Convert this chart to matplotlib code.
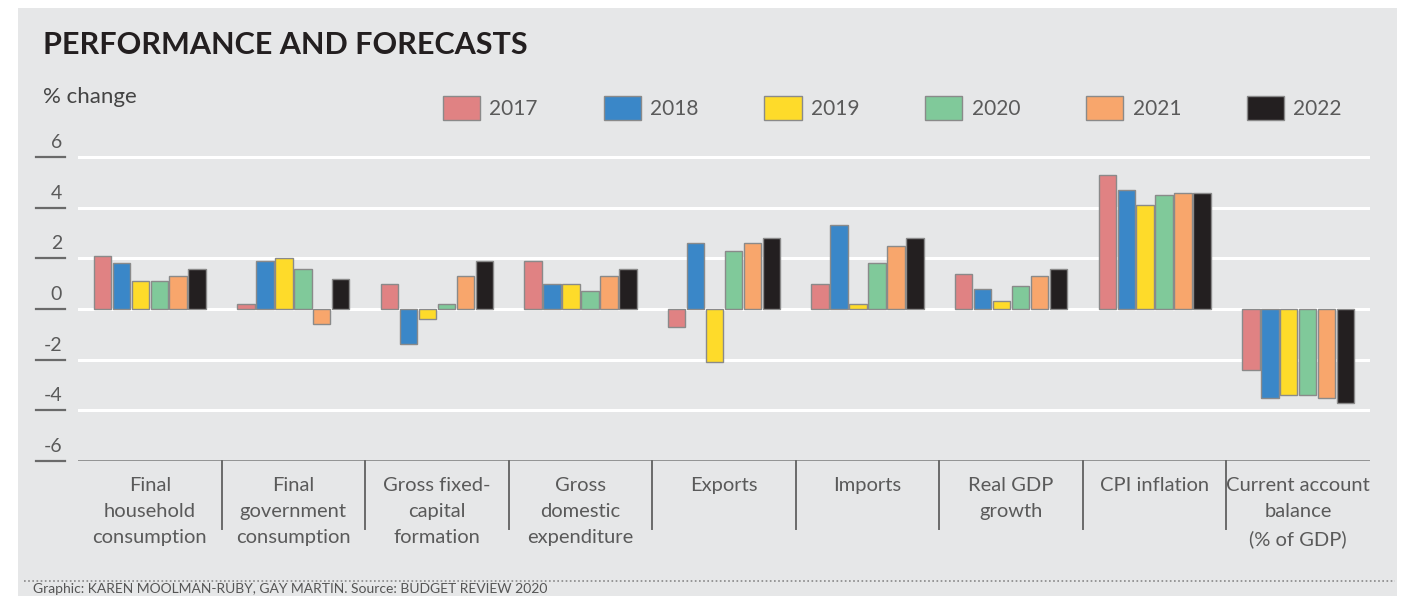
import matplotlib
matplotlib.use("Agg")
import matplotlib.pyplot as plt
import matplotlib.patches as patches
from matplotlib.lines import Line2D
import matplotlib.transforms as mtransforms
import numpy as np

plt.rcParams['font.family'] = ['Lato', 'DejaVu Sans']

categories = ["Final\nhousehold\nconsumption", "Final\ngovernment\nconsumption",
              "Gross fixed-\ncapital\nformation", "Gross\ndomestic\nexpenditure",
              "Exports", "Imports", "Real GDP\ngrowth", "CPI inflation",
              "Current account\nbalance\n(% of GDP)"]
years = ["2017", "2018", "2019", "2020", "2021", "2022"]
v2017 = [2.1, 0.2, 1.0, 1.9, -0.7, 1.0, 1.4, 5.3, -2.4]
v2018 = [1.8, 1.9, -1.4, 1.0, 2.6, 3.3, 0.8, 4.7, -3.5]
v2019 = [1.1, 2.0, -0.4, 1.0, -2.1, 0.2, 0.3, 4.1, -3.4]
v2020 = [1.1, 1.6, 0.2, 0.7, 2.3, 1.8, 0.9, 4.5, -3.4]
v2021 = [1.3, -0.6, 1.3, 1.3, 2.6, 2.5, 1.3, 4.6, -3.5]
v2022 = [1.6, 1.2, 1.9, 1.6, 2.8, 2.8, 1.6, 4.6, -3.7]
series = [v2017, v2018, v2019, v2020, v2021, v2022]
colors = ["#e08283", "#3a87c8", "#fedb2a", "#80c99a", "#f8a66c", "#231f20"]
yticks = [-6, -4, -2, 0, 2, 4, 6]

W, H = 1406, 596
fig = plt.figure(figsize=(W / 100, H / 100), dpi=100)
fig.patch.set_facecolor("white")

# grey panel
fig.add_artist(patches.Rectangle((18 / W, 0), (1397 - 18) / W, (H - 8) / H,
                                 transform=fig.transFigure, facecolor="#e6e7e8",
                                 edgecolor="none", zorder=-10))

ax = fig.add_axes([78 / W, (H - 461) / H, (1370 - 78) / W, (461 - 152) / H])
ax.set_facecolor("none")

n = len(categories)
x = np.arange(n)
bw = 0.132
for i, (vals, c) in enumerate(zip(series, colors)):
    ax.bar(x + (i - 2.5) * bw, vals, width=bw * 0.92, color=c,
           edgecolor="#8a8a8a", linewidth=1.0, zorder=3, label=years[i])

ax.set_xlim(-0.5, n - 0.5)
ax.set_ylim(-6, 6.2)
for s in ax.spines.values():
    s.set_visible(False)
ax.set_xticks([])
ax.set_yticks([])

for t in yticks[1:]:
    ax.axhline(t, color="white", lw=2.2, zorder=1)
ax.axhline(-6, color="#7a7a7a", lw=1.8, zorder=2)

# y tick labels with short underline
btr = mtransforms.blended_transform_factory(ax.transAxes, ax.transData)
for t in yticks:
    ax.plot([-42 / 1292, -13 / 1292], [t, t], transform=btr, color="#6a6a6a",
            lw=1.6, clip_on=False)
    ax.text(-16 / 1292, t + 0.24, str(t), transform=btr, ha="right", va="bottom",
            fontsize=14, color="#5a5a5a")

# group separators and category labels
for k in range(1, n):
    ax.plot([k - 0.5, k - 0.5], [-6, -8.7], color="#6a6a6a", lw=1.4, clip_on=False)
for k, cat in enumerate(categories):
    ax.text(k, -6.62, cat, ha="center", va="top", fontsize=14.5, color="#5a5a5a",
            linespacing=1.66)

# titles
fig.text(43 / W, 1 - 45 / H, "PERFORMANCE AND FORECASTS", fontsize=22,
         fontweight="bold", color="#231f20", va="center", ha="left")
fig.text(43 / W, 1 - 97 / H, "% change", fontsize=16, color="#444444",
         va="center", ha="left")

# legend
handles = [patches.Patch(facecolor=c, edgecolor="#8a8a8a", label=y)
           for c, y in zip(colors, years)]
leg = fig.legend(handles=handles, loc="center left",
                 bbox_to_anchor=(443 / W, 1 - 108 / H), ncol=6, frameon=False,
                 fontsize=15, handlelength=1.78, handleheight=1.44,
                 handletextpad=0.45, columnspacing=3.16, borderpad=0,
                 borderaxespad=0)
for t in leg.get_texts():
    t.set_color("#5a5a5a")

# dotted rule and credit
fig.add_artist(Line2D([24 / W, 1395 / W], [1 - 581 / H, 1 - 581 / H],
                      transform=fig.transFigure, color="#888888", lw=1.2,
                      linestyle=(0, (1, 1.5))))
fig.text(33 / W, 1 - 595 / H,
         "Graphic: KAREN MOOLMAN-RUBY, GAY MARTIN. Source: BUDGET REVIEW 2020",
         fontsize=10, color="#555555", va="bottom", ha="left")

fig.savefig("out.png", dpi=100)
